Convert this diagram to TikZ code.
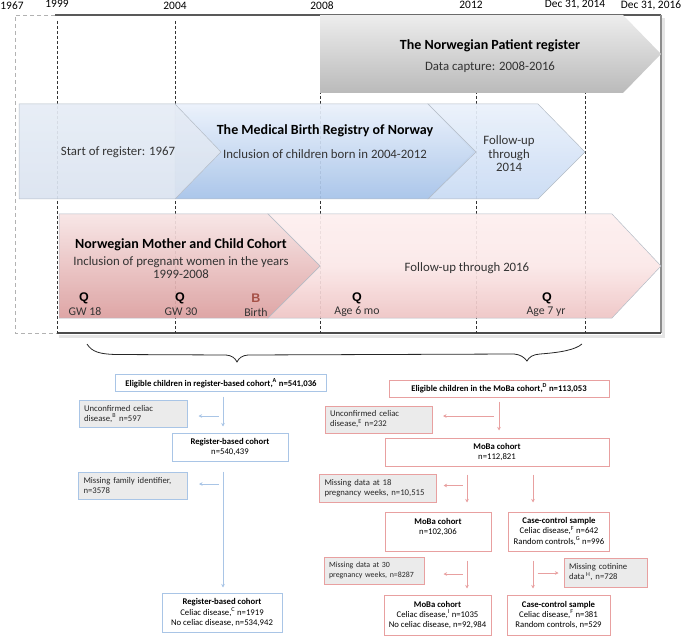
\documentclass[tikz,border=0pt]{standalone}
\usepackage{fontspec}
\setmainfont{Carlito}
\newfontfamily\qfont{Liberation Sans}
\usetikzlibrary{arrows.meta,calc}
\definecolor{bluec}{RGB}{169,197,230}
\definecolor{pinkc}{RGB}{232,160,160}
\definecolor{grayf}{RGB}{235,235,235}
\definecolor{edgec}{RGB}{180,188,198}
\definecolor{bcol}{RGB}{165,80,70}
\begin{document}
\begin{tikzpicture}[x=1pt,y=-1pt,
  yr/.style={font=\fontsize{11.4}{13}\selectfont},
  ttl/.style={font=\bfseries\fontsize{14}{16}\selectfont},
  sub/.style={font=\fontsize{12.8}{14}\selectfont, text=black!80},
  qq/.style={font=\qfont\bfseries\fontsize{12.5}{13}\selectfont},
  lbl/.style={font=\fontsize{11.8}{12}\selectfont, text=black!80},
  fbx/.style={draw, line width=1pt, inner sep=2pt, font=\fontsize{8.7}{10.4}\selectfont, align=center, fill=white},
  bbx/.style={fbx, draw=bluec},
  pbx/.style={fbx, draw=pinkc},
  gbx/.style={fill=grayf, align=left, inner xsep=5pt, font=\fontsize{8.7}{10}\selectfont, text=black!85},
  arrB/.style={draw=bluec, line width=0.9pt, -{Stealth[length=3.5pt,width=3.5pt]}},
  arrP/.style={draw=pinkc, line width=0.9pt, -{Stealth[length=3.5pt,width=3.5pt]}},
  tdash/.style={black!80, line width=0.7pt, dash pattern=on 3pt off 2pt},
  shp/.style={draw=edgec, line width=0.5pt}
]
\useasboundingbox (0,0) rectangle (685,636);

% ---------- year labels ----------
\node[yr] (y1967) at (12,6) {1967};
\node[yr] (y1999) at (57,4) {1999};
\node[yr] (y2004) at (175,6) {2004};
\node[yr] (y2008) at (322,6) {2008};
\node[yr] (y2012) at (471,5) {2012};
\node[yr] (y2014) at (575,5) {Dec 31, 2014};
\node[yr] (y2016) at (651,5) {Dec 31, 2016};

% ---------- frame ----------
\draw[black!30, dash pattern=on 4pt off 3pt, line width=0.8pt] (55,15) -- (15,15) -- (15,333) -- (57,333);
\draw[black!10, line width=3pt] (59,336) -- (663,336) -- (663,18);
\draw[black!65, line width=1.2pt] (55,15) -- (661,15);
\draw[black!45, line width=1.8pt] (661,15) -- (661,333);
\draw[black!70, line width=1.2pt] (57,333) -- (661,333);

% ---------- dashed year lines ----------
\foreach \xx in {57,175,320,476,585} \draw[tdash] (\xx,21) -- (\xx,333);

% ---------- gray patient register arrow ----------
\shade[top color=black!7, bottom color=black!27] (320,15) -- (623,15) -- (661,54) -- (623,93) -- (320,93) -- cycle;
\node[ttl] (npr) at (490,46) {The Norwegian Patient register};
\node[sub] (nprs) at (490,67) {Data capture: 2008-2016};

% ---------- blue row ----------
\shade[shp, top color={rgb,255:red,234;green,241;blue,251}, bottom color={rgb,255:red,200;green,218;blue,243}, fill opacity=0.92] (428,104) -- (538,104) -- (585,152) -- (538,199) -- (428,199) -- (474,152) -- cycle;
\shade[shp, top color={rgb,255:red,234;green,241;blue,251}, bottom color={rgb,255:red,164;green,193;blue,232}, fill opacity=0.92] (175,104) -- (428,104) -- (476,152) -- (428,199) -- (175,199) -- cycle;
\shade[shp, top color={rgb,255:red,230;green,236;blue,245}, bottom color={rgb,255:red,218;green,227;blue,240}, fill opacity=0.92] (19,104) -- (175,104) -- (221,152) -- (175,199) -- (19,199) -- cycle;
\node[sub] (sreg) at (118,152) {Start of register: 1967};
\node[ttl] (mbr) at (325,131) {The Medical Birth Registry of Norway};
\node[sub] (mbrs) at (325,154) {Inclusion of children born in 2004-2012};
\node[sub, align=center, font=\fontsize{12.8}{13.6}\selectfont] (fu14) at (509,154) {Follow-up\\through\\2014};

% ---------- pink row ----------
\shade[shp, top color={rgb,255:red,253;green,239;blue,239}, bottom color={rgb,255:red,238;green,196;blue,196}, middle color={rgb,255:red,251;green,231;blue,231}, fill opacity=0.92] (268,214) -- (612,214) -- (661,266) -- (612,318) -- (268,318) -- (320,266) -- cycle;
\shade[shp, top color={rgb,255:red,247;green,228;blue,228}, bottom color={rgb,255:red,219;green,158;blue,158}, fill opacity=0.92] (59,214) -- (268,214) -- (320,266) -- (268,318) -- (59,318) -- cycle;
\node[ttl] (moba) at (181,245) {Norwegian Mother and Child Cohort};
\node[sub, align=center, font=\fontsize{12.8}{13}\selectfont] (mobas) at (181,267.5) {Inclusion of pregnant women in the years\\1999-2008};
\node[sub] (fu16) at (467,268) {Follow-up through 2016};
\node[qq] (q1) at (84,298) {Q};
\node[lbl] (l1) at (85,312) {GW 18};
\node[qq] (q2) at (180,298) {Q};
\node[lbl] (l2) at (181,312) {GW 30};
\node[qq, text=bcol] (q3) at (256,298) {B};
\node[lbl] (l3) at (256,312) {Birth};
\node[qq] (q4) at (357,298) {Q};
\node[lbl] (l4) at (357,312) {Age 6 mo};
\node[qq] (q5) at (547,298) {Q};
\node[lbl] (l5) at (546,312) {Age 7 yr};

% ---------- brace ----------
\draw[black!85, line width=0.8pt] (87,344) .. controls (92,352) and (100,354) .. (115,354.5) -- (226,355)
  .. controls (232,355.5) and (235,358) .. (237,362) .. controls (239,358) and (242,355.5) .. (248,355)
  -- (514,354) .. controls (520,354.5) and (524,357) .. (527,361) .. controls (529,357) and (533,354.5) .. (540,354)
  .. controls (560,352.5) and (575,350) .. (582,344);

% ---------- left flowchart ----------
\coordinate (colL) at (223,0);
\node[bbx, minimum width=211, minimum height=17] (b1) at (221,383) {\textbf{Eligible children in register-based cohort,\textsuperscript{A} n=541,036}};
\node[bbx, gbx, minimum width=108, minimum height=27, text width=98] (u1) at (133,414) {Unconfirmed celiac\\disease,\textsuperscript{B} n=597};
\node[bbx, minimum width=116, minimum height=28] (b2) at (230,447) {\textbf{Register-based cohort}\\n=540,439};
\node[bbx, gbx, minimum width=109, minimum height=27, text width=99] (u2) at (133,485.5) {Missing family identifier,\\n=3578};
\node[bbx, minimum width=120, minimum height=39] (b3) at (222,612.5) {\textbf{Register-based cohort}\\Celiac disease,\textsuperscript{C} n=1919\\No celiac disease, n=534,942};

\draw[arrB, shorten <=4.5pt, shorten >=6pt] (b1.south -| colL) -- (b2.north -| colL);
\draw[arrB] ($(u1.east)+(31,2)$) -- ($(u1.east)+(11,2)$);
\draw[arrB, shorten <=10pt, shorten >=5pt] (b2.south -| colL) -- (b3.north -| colL);
\draw[arrB] ($(u2.east)+(31,-1.5)$) -- ($(u2.east)+(11,-1.5)$);

% ---------- right flowchart ----------
\coordinate (colA) at (499,0);
\coordinate (colB) at (467,0);
\coordinate (colC) at (533,0);
\node[pbx, minimum width=220, minimum height=17] (m1) at (499,388.5) {\textbf{Eligible children in the MoBa cohort,\textsuperscript{D} n=113,053}};
\node[pbx, gbx, minimum width=107, minimum height=27, text width=97] (u3) at (378.5,419.5) {Unconfirmed celiac\\disease,\textsuperscript{E} n=232};
\node[pbx, minimum width=224, minimum height=28] (m2) at (497,452) {\textbf{MoBa cohort}\\n=112,821};
\node[pbx, gbx, minimum width=117, minimum height=28, text width=107] (u4) at (378,488) {Missing data at 18\\pregnancy weeks, n=10,515};
\node[pbx, minimum width=106, minimum height=39] (m3) at (438,531.5) {\textbf{MoBa cohort}\\n=102,306\\\mbox{}};
\node[pbx, minimum width=101, minimum height=39] (c1) at (559,531.5) {\textbf{Case-control sample}\\Celiac disease,\textsuperscript{F} n=642\\Random controls,\textsuperscript{G} n=996};
\node[pbx, gbx, minimum width=100, minimum height=27, text width=90, inner xsep=5pt, font=\fontsize{7.9}{10}\selectfont] (u5) at (374,570.5) {Missing data at 30\\pregnancy weeks, n=8287};
\node[pbx, gbx, minimum width=83, minimum height=29, text width=73] (u6) at (605.5,572.5) {Missing cotinine\\data\,\textsuperscript{H}, n=728};
\node[pbx, minimum width=107, minimum height=40] (m4) at (437.5,615) {\textbf{MoBa cohort}\\Celiac disease,\textsuperscript{I} n=1035\\No celiac disease, n=92,984};
\node[pbx, minimum width=103, minimum height=40] (c2) at (558.5,615) {\textbf{Case-control sample}\\Celiac disease,\textsuperscript{F} n=381\\Random controls, n=529};

\draw[arrP, shorten <=4pt, shorten >=7pt] (m1.south -| colA) -- (m2.north -| colA);
\draw[arrP] ($(u3.east)+(61.5,-3.5)$) -- ($(u3.east)+(10.5,-3.5)$);
\draw[arrP, shorten <=8pt, shorten >=9pt] (m2.south -| colB) -- (m3.north -| colB);
\draw[arrP, shorten <=8pt, shorten >=9pt] (m2.south -| colC) -- (c1.north -| colC);
\draw[arrP] ($(u4.east)+(25.5,-2.5)$) -- ($(u4.east)+(6.5,-2.5)$);
\draw[arrP, shorten <=9pt, shorten >=6pt] (m3.south -| colB) -- (m4.north -| colB);
\draw[arrP, shorten <=9pt, shorten >=6pt] (c1.south -| colC) -- (c2.north -| colC);
\draw[arrP] ($(u5.east)+(38,3.5)$) -- ($(u5.east)+(19,3.5)$);
\draw[arrP] ($(u6.west)+(-26,0.5)$) -- ($(u6.west)+(-5,0.5)$);
\end{tikzpicture}
\end{document}
